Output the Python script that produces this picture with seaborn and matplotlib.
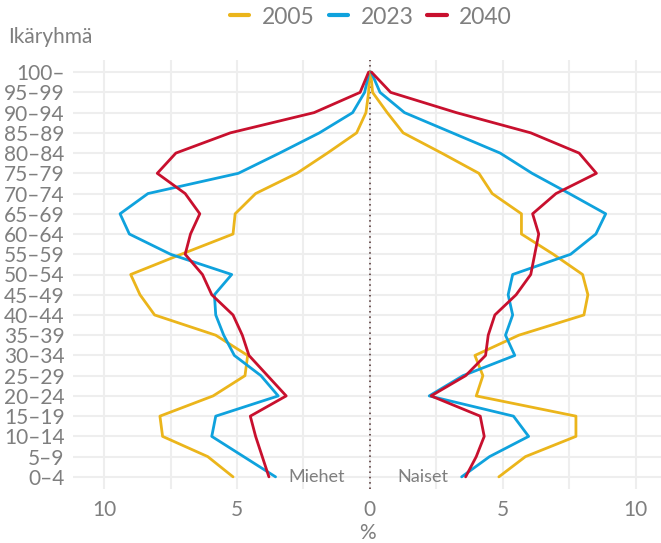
import numpy as np
import pandas as pd
import matplotlib
matplotlib.use("Agg")
import matplotlib.pyplot as plt
import seaborn as sns

age_groups = ["0–4", "5–9", "10–14", "15–19", "20–24", "25–29", "30–34", "35–39",
              "40–44", "45–49", "50–54", "55–59", "60–64", "65–69", "70–74", "75–79",
              "80–84", "85–89", "90–94", "95–99", "100–"]
years = ["2005", "2023", "2040"]

# Shares (%) by age group, 0–4 ... 100–
men_2005 = [5.15, 6.1, 7.8, 7.9, 5.9, 4.7, 4.6, 5.8, 8.1, 8.65, 9.0, 7.1, 5.15, 5.07, 4.3, 2.75, 1.6, 0.5, 0.15, 0.05, 0.02]
men_2023 = [3.55, 4.75, 5.95, 5.8, 3.45, 4.1, 5.1, 5.5, 5.8, 5.85, 5.2, 7.5, 9.05, 9.4, 8.35, 4.95, 3.4, 1.9, 0.65, 0.2, 0.03]
men_2040 = [3.8, 4.05, 4.3, 4.5, 3.15, 3.85, 4.55, 4.8, 5.15, 5.95, 6.3, 6.95, 6.75, 6.4, 6.95, 8.0, 7.3, 5.25, 2.1, 0.37, 0.05]
women_2005 = [4.85, 5.85, 7.75, 7.75, 4.0, 4.25, 3.95, 5.6, 8.05, 8.2, 8.0, 6.9, 5.7, 5.7, 4.6, 4.1, 2.7, 1.25, 0.65, 0.1, 0.03]
women_2023 = [3.45, 4.5, 5.97, 5.4, 2.23, 3.5, 5.45, 5.1, 5.37, 5.2, 5.37, 7.55, 8.5, 8.87, 7.5, 6.1, 4.9, 3.1, 1.3, 0.38, 0.05]
women_2040 = [3.6, 4.0, 4.3, 4.15, 2.3, 3.6, 4.35, 4.45, 4.7, 5.5, 6.05, 6.2, 6.35, 6.12, 7.0, 8.52, 7.87, 6.05, 3.25, 0.78, 0.06]

colors = {"2005": "#EBB51B", "2023": "#0FA2DD", "2040": "#C8102E"}
grey = "#7F7F7F"

rows = []
for yr, m, w in zip(years, [men_2005, men_2023, men_2040], [women_2005, women_2023, women_2040]):
    for i in range(len(age_groups)):
        rows.append({"year": yr, "sex": "Miehet", "age": i, "value": -m[i]})
        rows.append({"year": yr, "sex": "Naiset", "age": i, "value": w[i]})
df = pd.DataFrame(rows)

sns.set_theme(style="white")
plt.rcParams["font.family"] = ["Lato", "DejaVu Sans"]

fig = plt.figure(figsize=(6.61, 5.43), dpi=100)
ax = fig.add_axes([73 / 661, 1 - 489 / 543, 1 - 73 / 661, (489 - 60) / 543])

# grid
for xv in np.arange(-10, 10.01, 2.5):
    ax.axvline(xv, color="#EEEEEE", lw=1.5, zorder=0)
for yv in range(len(age_groups)):
    ax.axhline(yv, color="#EEEEEE", lw=1.5, zorder=0)

ax.axvline(0, color="#4a2a2a", lw=1.1, ls=(0, (1, 2.5)), zorder=1)

for k, sex in enumerate(["Miehet", "Naiset"]):
    sns.lineplot(data=df[df.sex == sex], x="value", y="age", hue="year",
                 palette=colors, hue_order=years, orient="y", estimator=None,
                 lw=2.0, ax=ax, legend=(k == 0), zorder=3)

ax.set_xlim(-11.17, 10.95)
ax.set_ylim(-0.6, 20.6)
ax.set_yticks(range(len(age_groups)))
ax.set_yticklabels(age_groups)
ax.set_xticks([-10, -5, 0, 5, 10])
ax.set_xticklabels(["10", "5", "0", "5", "10"])
ax.tick_params(axis="both", length=0, labelsize=15, labelcolor=grey)
ax.tick_params(axis="y", pad=6)
ax.tick_params(axis="x", pad=8)
for s in ax.spines.values():
    s.set_visible(False)
ax.set_ylabel("")
ax.set_xlabel("%", fontsize=15, color=grey, labelpad=2)

ax.text(-2.0, 0, "Miehet", ha="center", va="center", fontsize=13, color=grey, zorder=4)
ax.text(2.0, 0, "Naiset", ha="center", va="center", fontsize=13, color=grey, zorder=4)

fig.text(8 / 661, 1 - 37 / 543, "Ikäryhmä", ha="left", va="center", fontsize=15, color=grey)

leg = ax.get_legend()
handles, labels = ax.get_legend_handles_labels()
leg.remove()
fig.legend(handles[:3], labels[:3], loc="center", bbox_to_anchor=(371 / 661, 1 - 17 / 543),
           ncol=3, frameon=False, fontsize=16.5, labelcolor=grey, handlelength=0.85,
           columnspacing=0.6, handletextpad=0.55)
for h in fig.legends[0].get_lines():
    h.set_linewidth(3)

fig.savefig("out.png", dpi=100)
